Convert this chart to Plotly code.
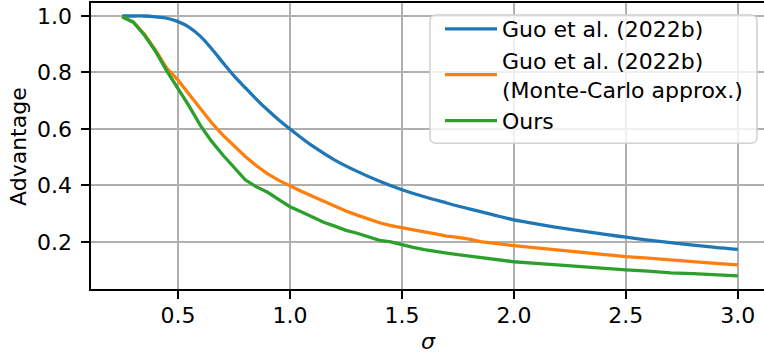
import plotly.graph_objects as go

sigma_blue = [0.25, 0.30, 0.35, 0.40, 0.45, 0.50, 0.55, 0.60, 0.65, 0.70, 0.75, 0.80, 0.85, 0.90, 0.95, 1.00,
              1.1, 1.2, 1.3, 1.4, 1.5, 1.6, 1.7, 1.8, 1.9, 2.0, 2.1, 2.2, 2.3, 2.4, 2.5, 2.6, 2.7, 2.8, 2.9, 3.0]
guo = [1.000, 1.000, 1.000, 0.997, 0.992, 0.980, 0.960, 0.928, 0.884, 0.835, 0.788, 0.746, 0.705, 0.667, 0.632, 0.600,
       0.540, 0.490, 0.450, 0.415, 0.385, 0.360, 0.338, 0.317, 0.298, 0.278, 0.264, 0.251, 0.239, 0.228, 0.217, 0.207,
       0.198, 0.189, 0.181, 0.174]

sigma_mc = [0.25, 0.30, 0.35, 0.40, 0.45, 0.50, 0.55, 0.60, 0.65, 0.70, 0.75, 0.80, 0.85, 0.90, 0.95, 1.00,
            1.05, 1.10, 1.15, 1.20, 1.25, 1.30, 1.35, 1.40, 1.45, 1.50, 1.55, 1.60, 1.65, 1.70, 1.75, 1.80, 1.85,
            1.90, 1.95, 2.00, 2.1, 2.2, 2.3, 2.4, 2.5, 2.6, 2.7, 2.8, 2.9, 3.0]
guo_mc = [0.997, 0.978, 0.935, 0.878, 0.815, 0.773, 0.722, 0.670, 0.622, 0.578, 0.541, 0.503, 0.470, 0.441, 0.418,
          0.398, 0.380, 0.362, 0.344, 0.327, 0.310, 0.295, 0.281, 0.268, 0.258, 0.250, 0.242, 0.236, 0.229, 0.221,
          0.216, 0.210, 0.201, 0.196, 0.191, 0.187, 0.179, 0.171, 0.164, 0.156, 0.148, 0.143, 0.136, 0.129, 0.124,
          0.119]
ours = [0.997, 0.978, 0.932, 0.874, 0.805, 0.744, 0.680, 0.612, 0.556, 0.508, 0.465, 0.420, 0.395, 0.376, 0.350,
        0.325, 0.307, 0.287, 0.270, 0.256, 0.241, 0.231, 0.219, 0.206, 0.200, 0.190, 0.181, 0.173, 0.166, 0.161,
        0.155, 0.150, 0.145, 0.139, 0.134, 0.130, 0.124, 0.118, 0.112, 0.107, 0.101, 0.097, 0.091, 0.088, 0.085,
        0.080]

x_ticks = [0.5, 1.0, 1.5, 2.0, 2.5, 3.0]
y_ticks = [0.2, 0.4, 0.6, 0.8, 1.0]

FONT = "DejaVu Sans"
FS = 22
LW = 3.3

fig = go.Figure()
fig.add_trace(go.Scatter(x=sigma_blue, y=guo, mode="lines", name="Guo et al. (2022b)",
                         line=dict(color="#1f77b4", width=LW, shape="spline")))
fig.add_trace(go.Scatter(x=sigma_mc, y=guo_mc, mode="lines", name="Guo et al. (2022b)<br>(Monte-Carlo approx.)",
                         line=dict(color="#ff7f0e", width=LW)))
fig.add_trace(go.Scatter(x=sigma_mc, y=ours, mode="lines", name="Ours",
                         line=dict(color="#2ca02c", width=LW)))

axis_common = dict(showgrid=True, gridcolor="#b0b0b0", gridwidth=1.7, zeroline=False,
                   showline=True, linecolor="black", linewidth=1.7,
                   ticks="outside", ticklen=7.7, tickwidth=1.7, tickcolor="black",
                   tickfont=dict(family=FONT, size=FS, color="black"))

# rounded legend frame (paper coordinates of the plot area)
lx0, lx1, ly0, ly1 = 0.5037, 0.9896, 0.5094, 0.958
rx, ry = 0.009, 0.021
frame = (f"M{lx0+rx},{ly1} L{lx1-rx},{ly1} Q{lx1},{ly1} {lx1},{ly1-ry} "
         f"L{lx1},{ly0+ry} Q{lx1},{ly0} {lx1-rx},{ly0} L{lx0+rx},{ly0} Q{lx0},{ly0} {lx0},{ly0+ry} "
         f"L{lx0},{ly1-ry} Q{lx0},{ly1} {lx0+rx},{ly1} Z")

fig.update_layout(
    width=764, height=354,
    margin=dict(l=91, r=0, t=3, b=65),
    paper_bgcolor="white", plot_bgcolor="white",
    font=dict(family=FONT, size=FS, color="black"),
    showlegend=True,
    legend=dict(x=(440 - 91) / 673, y=0.9825, xanchor="left", yanchor="top",
                bgcolor="rgba(0,0,0,0)", borderwidth=0,
                font=dict(family=FONT, size=FS, color="black"), itemwidth=52, tracegroupgap=0),
    xaxis=dict(range=[0.111, 3.117], tickvals=x_ticks, ticktext=[f"{v:.1f}" for v in x_ticks],
               mirror=True, ticklabelstandoff=-2, **axis_common),
    yaxis=dict(range=[0.0336, 1.046], tickvals=y_ticks, ticktext=[f"{v:.1f}" for v in y_ticks],
               ticklabelstandoff=5, **axis_common),
    shapes=[dict(type="path", path=frame, xref="paper", yref="paper", layer="above",
                 fillcolor="rgba(255,255,255,0.8)", line=dict(color="#d0d0d0", width=1.5))],
    annotations=[
        dict(text="<i>σ</i>", x=0.502, y=-0.182, xref="paper", yref="paper", xanchor="center", yanchor="middle",
             showarrow=False, font=dict(family=FONT, size=FS, color="black")),
        dict(text="Advantage", x=-0.1085, y=0.5, xref="paper", yref="paper", xanchor="center", yanchor="middle",
             textangle=-90, showarrow=False, font=dict(family=FONT, size=FS, color="black")),
    ],
)

fig.write_html("out.html", config={"displayModeBar": False},
               post_script="document.body.style.margin='0';document.body.style.overflow='hidden';")
